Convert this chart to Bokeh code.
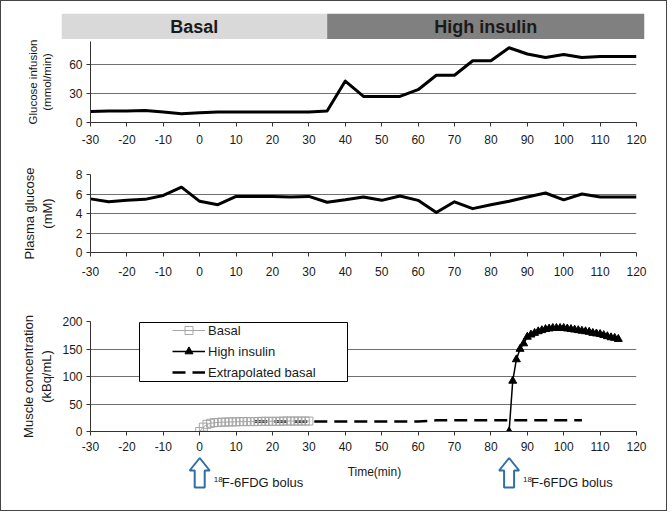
from bokeh.plotting import figure
from bokeh.layouts import column
from bokeh.models import Range1d, FixedTicker, Legend, LegendItem, BoxAnnotation
from bokeh.embed import file_html
from bokeh.resources import INLINE
from bokeh.core.properties import value

# ---------------- data ----------------
phase_names = ["Basal", "High insulin"]
phase_start = [-38, 35]
phase_end = [35, 122.2]
phase_colors = ["#d9d9d9", "#808080"]

time_5min = list(range(-30, 121, 5))
glucose_infusion = [11.5, 12, 12, 12.5, 11, 9, 10, 11, 11, 11, 11, 11, 11, 12, 43,
                    27, 27, 27, 34, 49, 49, 64, 64, 77.5, 71, 67.5, 70.5, 67.5,
                    68.5, 68.5, 68.5]
plasma_glucose = [5.5, 5.2, 5.35, 5.45, 5.85, 6.7, 5.25, 4.9, 5.75, 5.75, 5.75,
                  5.7, 5.75, 5.15, 5.4, 5.7, 5.35, 5.8, 5.35, 4.1, 5.2, 4.5, 4.9,
                  5.25, 5.7, 6.1, 5.4, 6.0, 5.7, 5.7, 5.7]

basal_time = list(range(0, 31))
basal_conc = [0, 8, 13, 15, 16, 16.5, 17, 17, 17.5, 17.5, 17.5, 18, 18, 18, 18, 18,
              18, 18.5, 18.5, 18.5, 18.5, 18.5, 18.5, 19, 19, 19, 19, 19, 19, 19, 19]

insulin_time = list(range(85, 116))
insulin_conc = [0, 92, 131, 150, 160, 172, 176, 179, 182, 184, 186, 187, 188, 188,
                188, 188, 187, 186, 185, 184, 183, 182, 181, 179, 178, 177, 175,
                173, 171, 170, 168]

extrap_time = [15, 60, 65, 105]
extrap_conc = [18, 18, 20.5, 20.5]

bolus_times = [0, 85]
bolus_iso = "18"
bolus_text = "F-6FDG bolus"

x_ticks = list(range(-30, 121, 10))
y1_ticks = [0, 30, 60]
y2_ticks = [0, 2, 4, 6, 8]
y3_ticks = [0, 50, 100, 150, 200]

# ---------------- layout ----------------
FONT = "Liberation Sans, Arial, sans-serif"
BL, BR, FW = 89, 30, 546
W = BL + FW + BR
TXT = "#1a1a1a"
GRID = "#707070"
AXIS = "#333333"


def panel(height, top, bottom, yr, yticks, label, label_standoff,
          xlabel_standoff, label_size="13px"):
    p = figure(width=W, height=height, x_range=Range1d(-30, 120), y_range=yr,
               output_backend="svg", toolbar_location=None,
               min_border_left=BL, min_border_right=BR,
               min_border_top=top, min_border_bottom=bottom)
    p.outline_line_color = None
    p.xgrid.grid_line_color = None
    p.ygrid.grid_line_color = GRID
    p.ygrid.grid_line_width = 1
    p.xaxis.ticker = FixedTicker(ticks=x_ticks)
    p.xaxis.major_label_overrides = {t: str(t) for t in x_ticks}
    p.yaxis.ticker = FixedTicker(ticks=yticks)
    p.yaxis.major_label_overrides = {t: str(t) for t in yticks}
    for ax in (p.xaxis[0], p.yaxis[0]):
        ax.axis_line_color = AXIS
        ax.major_tick_line_color = AXIS
        ax.major_tick_out = 4
        ax.major_tick_in = 0
        ax.minor_tick_line_color = None
        ax.major_label_text_font = FONT
        ax.major_label_text_font_size = "12px"
        ax.major_label_text_color = TXT
    p.xaxis.major_label_standoff = xlabel_standoff
    p.yaxis.major_label_standoff = 4
    p.yaxis.axis_label = label
    p.yaxis.axis_label_text_font = FONT
    p.yaxis.axis_label_text_font_size = label_size
    p.yaxis.axis_label_text_font_style = "normal"
    p.yaxis.axis_label_text_color = TXT
    p.yaxis.axis_label_standoff = label_standoff
    p.background_fill_color = "white"
    p.border_fill_color = "white"
    return p


# header bar
HL = 60
HW = 583
hdr = figure(width=W, height=38, x_range=Range1d(phase_start[0], phase_end[-1]),
             y_range=Range1d(0, 1), output_backend="svg", toolbar_location=None,
             x_axis_location=None, y_axis_location=None,
             min_border_left=HL, min_border_right=W - HL - HW,
             min_border_top=12, min_border_bottom=0)
hdr.frame_align = False
hdr.outline_line_color = None
hdr.grid.visible = False
hdr.quad(left=phase_start, right=phase_end, bottom=0, top=1,
         fill_color=phase_colors, line_color=None)
hdr.text(x=[(a + b) / 2 for a, b in zip(phase_start, phase_end)], y=[0.5, 0.5],
         text=phase_names, text_align="center", text_baseline="middle",
         text_font=value(FONT), text_font_size="18px", text_font_style="bold",
         text_color=TXT)

# panel 1
p1 = panel(111, 2, 28, Range1d(0, 84), y1_ticks,
           "Glucose infusion\n(mmol/min)", 13, 8, "11.5px")
p1.line(time_5min, glucose_infusion, line_color="black", line_width=3,
        line_join="round")

# panel 2
p2 = panel(140, 24, 38, Range1d(0, 8), y2_ticks,
           "Plasma glucose\n(mM)", 18, 10)
p2.line(time_5min, plasma_glucose, line_color="black", line_width=3,
        line_join="round")

# panel 3
p3 = panel(166, 31, 25, Range1d(0, 200), y3_ticks,
           "Muscle concentration\n(kBq/mL)", 5, 6)
r_ex = p3.line(extrap_time, extrap_conc, line_color="black", line_width=2.5,
               line_dash="13 7")
r_bl = p3.line(basal_time, basal_conc, line_color="#a6a6a6", line_width=1)
r_bs = p3.scatter(basal_time, basal_conc, marker="square", size=8,
                  line_color="#a6a6a6", fill_color=None, line_width=1)
r_hl = p3.line(insulin_time, insulin_conc, line_color="black", line_width=1.5)
r_hs = p3.scatter(insulin_time, insulin_conc, marker="triangle", size=8,
                  line_color="black", fill_color="black")

box = BoxAnnotation(left=49, right=257, bottom=50, top=109,
                    left_units="screen", right_units="screen",
                    bottom_units="screen", top_units="screen",
                    fill_color="white", fill_alpha=1.0,
                    line_color="black", line_width=1, line_alpha=1.0)
p3.add_layout(box)
leg = Legend(items=[LegendItem(label="Basal", renderers=[r_bl, r_bs]),
                    LegendItem(label="High insulin", renderers=[r_hl, r_hs]),
                    LegendItem(label="Extrapolated basal", renderers=[r_ex])],
             location=(82, 49), padding=0, margin=0, spacing=1,
             glyph_width=33, glyph_height=20, label_height=20,
             label_standoff=3, label_text_font=FONT, label_text_font_size="13px",
             label_text_color=TXT, border_line_color=None,
             background_fill_alpha=0)
p3.add_layout(leg)

# annotation strip below panel 3
AH = 54
ann = figure(width=W, height=AH, x_range=p3.x_range, y_range=Range1d(AH, 0),
             output_backend="svg", toolbar_location=None,
             x_axis_location=None, y_axis_location=None,
             min_border_left=BL, min_border_right=BR,
             min_border_top=0, min_border_bottom=0)
ann.outline_line_color = None
ann.grid.visible = False
ppu = FW / 150.0  # pixels per minute
arrow_dx = [0, 10, 5, 5, -5, -5, -10]
arrow_dy = [1.5, 14, 14, 31, 31, 14, 14]
ann.patches(xs=[[t + dx / ppu for dx in arrow_dx] for t in bolus_times],
            ys=[arrow_dy for _ in bolus_times],
            fill_color="white", line_color="#2f6ea6", line_width=2)
ann.text(x=[t + 14 / ppu for t in bolus_times], y=[23, 23],
         text=[bolus_iso] * 2, text_baseline="middle",
         text_font=value(FONT), text_font_size="8px", text_color=TXT)
ann.text(x=[t + 22 / ppu for t in bolus_times], y=[26, 26],
         text=[bolus_text] * 2, text_baseline="middle",
         text_font=value(FONT), text_font_size="13px", text_color=TXT)
ann.text(x=[48], y=[15], text=["Time(min)"], text_align="center",
         text_baseline="middle", text_font=value(FONT), text_font_size="12px",
         text_color=TXT)

layout = column(hdr, p1, p2, p3, ann, spacing=0,
                styles={"border": "1px solid #444444"})

open("out.html", "w").write(file_html(layout, INLINE))
